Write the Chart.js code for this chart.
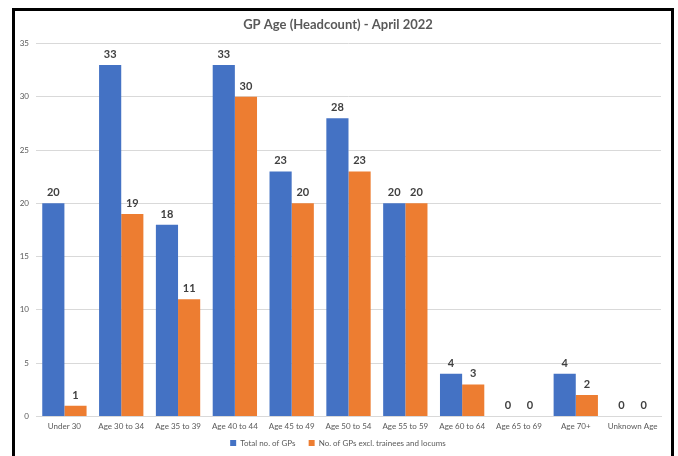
<!DOCTYPE html>
<html>
<head>
<meta charset="utf-8">
<script src="https://cdn.jsdelivr.net/npm/chart.js@4/dist/chart.umd.min.js"></script>
<style>
  html, body { margin: 0; padding: 0; background: #fff; }
  #frame {
    position: absolute; left: 12px; top: 8px;
    width: 656px; height: 460px;
    border: 3px solid #000; border-bottom: none;
    background: #fff;
  }
  #chart { display: block; }
</style>
</head>
<body>
<div id="frame"><canvas id="chart" width="656" height="445"></canvas></div>
<script>
const categories = ['Under 30', 'Age 30 to 34', 'Age 35 to 39', 'Age 40 to 44', 'Age 45 to 49',
  'Age 50 to 54', 'Age 55 to 59', 'Age 60 to 64', 'Age 65 to 69', 'Age 70+', 'Unknown Age'];
const totalGPs = [20, 33, 18, 33, 23, 28, 20, 4, 0, 4, 0];
const gpsExclTrainees = [1, 19, 11, 30, 20, 23, 20, 3, 0, 2, 0];
const yTicks = [0, 5, 10, 15, 20, 25, 30, 35];

const blue = '#4472C4';
const orange = '#ED7D31';
const fontFamily = 'Lato, "Open Sans", sans-serif';

// valores por cima das barras
const barLabels = {
  id: 'barLabels',
  afterDatasetsDraw(chart) {
    const ctx = chart.ctx;
    ctx.save();
    ctx.font = 'bold 11px ' + fontFamily;
    ctx.fillStyle = '#404040';
    ctx.textAlign = 'center';
    ctx.textBaseline = 'bottom';
    chart.data.datasets.forEach((ds, i) => {
      chart.getDatasetMeta(i).data.forEach((bar, j) => {
        ctx.fillText(ds.data[j], bar.x, bar.y - 5);
      });
    });
    ctx.restore();
  }
};

new Chart(document.getElementById('chart'), {
  type: 'bar',
  data: {
    labels: categories,
    datasets: [
      { label: 'Total no. of GPs', data: totalGPs, backgroundColor: blue },
      { label: 'No. of GPs excl. trainees and locums', data: gpsExclTrainees, backgroundColor: orange }
    ]
  },
  options: {
    responsive: false,
    animation: false,
    datasets: { bar: { categoryPercentage: 0.78, barPercentage: 1.0 } },
    layout: { padding: { left: 0, right: 10, top: 0, bottom: -1 } },
    scales: {
      x: {
        grid: { display: false, drawTicks: false },
        border: { color: '#d9d9d9' },
        ticks: { color: '#595959', font: { size: 8, family: fontFamily }, maxRotation: 0, autoSkip: false, padding: 5 }
      },
      y: {
        min: 0, max: 35,
        afterBuildTicks: (axis) => { axis.ticks = yTicks.map(v => ({ value: v })); },
        grid: { color: '#d9d9d9', drawTicks: false },
        border: { display: false },
        ticks: { color: '#595959', font: { size: 8, family: fontFamily }, padding: 7 },
        afterFit: (axis) => { axis.width = 21; }
      }
    },
    plugins: {
      title: {
        display: true,
        text: 'GP Age (Headcount) - April 2022',
        color: '#595959',
        font: { size: 13, weight: 'bold', family: fontFamily },
        padding: { top: 6, bottom: 11 }
      },
      legend: {
        position: 'bottom',
        labels: {
          color: '#595959',
          font: { size: 8, family: fontFamily },
          boxWidth: 6, boxHeight: 6, padding: 3,
          // espaço extra entre as duas entradas da legenda
          generateLabels: (chart) => {
            const items = Chart.defaults.plugins.legend.labels.generateLabels(chart);
            items[0].text = items[0].text + '     ';
            return items;
          }
        }
      },
      tooltip: { enabled: false }
    }
  },
  plugins: [barLabels]
});
</script>
</body>
</html>
